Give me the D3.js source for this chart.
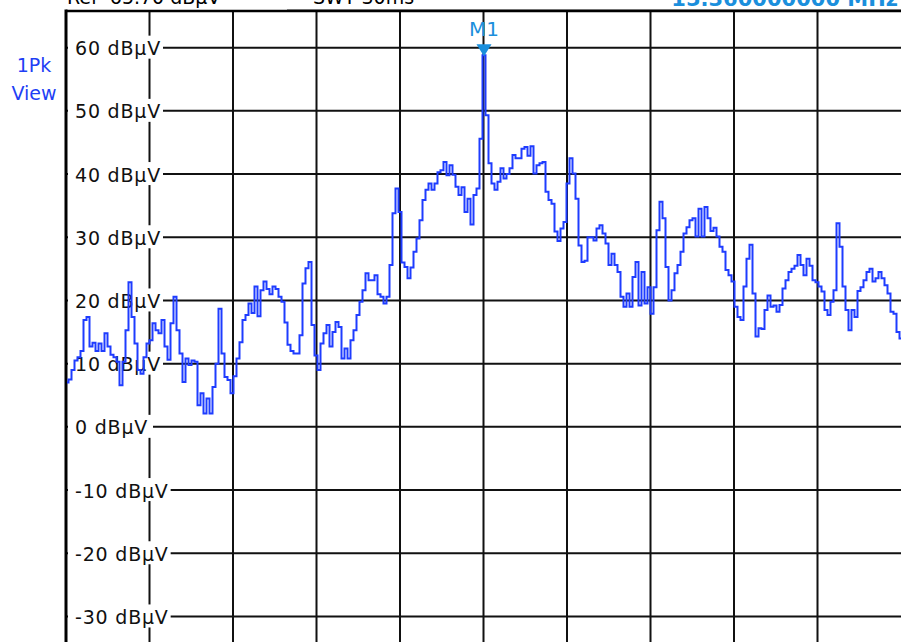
<!DOCTYPE html>
<html>
<head>
<meta charset="utf-8">
<script src="https://cdn.jsdelivr.net/npm/d3@7"></script>
<style>
  body { margin: 0; background: #fff; }
  svg { display: block; font-family: "DejaVu Sans", Verdana, sans-serif; }
</style>
</head>
<body>
<div id="spectrum"></div>
<script>
// trace levels in dBµV, one per sweep point
const levels = [
  7, 7.5, 9, 10.5, 11, 12, 16.9, 17.4, 12.7, 13.3,
  12, 13.2, 12, 14.8, 12.7, 11.4, 11, 10.3, 6.6, 10.3,
  15.3, 22.9, 17.4, 13.2, 9, 8.4, 11, 13.2, 13.7, 16.4,
  15.3, 14.8, 16.9, 12.7, 10.6, 16.4, 20.6, 15.3, 11.6, 7.1,
  10.8, 9.8, 10.5, 10.3, 3.4, 5.3, 2.1, 4.5, 2.1, 6.3,
  10, 18.7, 11.6, 7.9, 7.4, 5.3, 8, 10.8, 13.4, 16.9,
  17.7, 19.5, 18, 22.2, 17.5, 21.6, 23, 21.8, 21, 22.2,
  21.8, 20.6, 19.8, 16.5, 13, 12, 11.6, 11.6, 14.5, 22.7,
  25.1, 26.1, 16.1, 11.3, 9, 13.2, 14.8, 16.1, 12.7, 15,
  16.6, 15.8, 10.8, 12.4, 10.8, 13.7, 15.3, 17.7, 19.8, 21.6,
  24.3, 23.2, 23.2, 24, 21, 20.6, 19.5, 20.6, 25.6, 33.8,
  37.7, 34, 26, 25.3, 23.5, 25.2, 27.7, 29.8, 32.7, 35.9,
  37.5, 38.5, 37.5, 38.5, 40.3, 40.6, 41.9, 39.8, 41.4, 39.9,
  38, 36.7, 37.9, 34, 36.1, 32, 36.7, 37.7, 45.6, 58.8,
  49.3, 41.7, 38.5, 37.5, 38.8, 40.9, 39.3, 40, 40.9, 43,
  42.5, 42.5, 44, 44.3, 42.9, 44.4, 40.1, 41.4, 41.7, 41.9,
  37.2, 35.9, 35.3, 30.9, 29.4, 31.4, 32.4, 38.5, 42.5, 40.1,
  36.1, 28.7, 26.1, 26.3, 30, 30, 29.5, 31.4, 31.9, 30.6,
  29, 25.6, 27.4, 25.6, 24.5, 20.6, 19, 21.1, 19, 23.7,
  26.1, 19.2, 24.5, 19.5, 22.1, 17.9, 22.1, 31.1, 35.6, 33,
  25.3, 20, 21.6, 24.3, 25.6, 27.7, 30.6, 31.6, 32.7, 33,
  30.1, 34.5, 30.1, 34.8, 33, 31, 31.5, 30.1, 28.5, 27.7,
  24.8, 24, 23, 19, 17.4, 16.9, 22.2, 26.6, 28.8, 21.1,
  14.3, 15.6, 15.5, 18.5, 20.8, 19, 19.2, 18.2, 19.3, 21.9,
  23.2, 24.5, 25, 25.5, 27.2, 25.6, 24, 26.6, 25.5, 23.2,
  22.9, 22.2, 21.4, 18.5, 17.7, 19.8, 21.6, 32.2, 28.5, 22.2,
  18.5, 15.3, 18.5, 17.4, 21.5, 22.1, 23.2, 24.5, 25, 23,
  23.5, 24.5, 23.5, 22.4, 21.1, 18.2, 17.9, 15, 14
];

const yTickValues = [60, 50, 40, 30, 20, 10, 0, -10, -20, -30];
const yTickLabels = ["60 dBµV", "50 dBµV", "40 dBµV", "30 dBµV", "20 dBµV",
                     "10 dBµV", "0 dBµV", "-10 dBµV", "-20 dBµV", "-30 dBµV"];
const traceName = ["1Pk", "View"];
const headerLeft = ["Ref  65.70 dBµV", "SWT 30ms"];
const markerName = "M1";
const markerFreq = "15.360000000 MHz";
const levelRange = [-34.2, 65.8];

const W = 901, H = 642;
const plot = {left: 66, top: 11, right: 901, bottom: 643};

const svg = d3.select("#spectrum").append("svg")
  .attr("width", W)
  .attr("height", H);

const x = d3.scaleLinear()
  .domain([0, levels.length - 1])
  .range([plot.left + 1, plot.right]);

const y = d3.scaleLinear()
  .domain(levelRange)
  .range([plot.bottom, plot.top]);

// 10 horizontal divisions
const xDiv = d3.scaleLinear().domain([0, 10]).range([plot.left, plot.right]);

// header
svg.append("line")
  .attr("x1", 287).attr("x2", W)
  .attr("y1", 9.5).attr("y2", 9.5)
  .attr("stroke", "#9a9a9a").attr("stroke-width", 1);

svg.append("text").attr("x", 67).attr("y", 4)
  .attr("font-size", 19).attr("fill", "#000")
  .style("white-space", "pre")
  .text(headerLeft[0]);
svg.append("text").attr("x", 313).attr("y", 4)
  .attr("font-size", 19).attr("fill", "#000")
  .text(headerLeft[1]);
svg.append("text").attr("x", 898).attr("y", 6)
  .attr("font-size", 21).attr("font-weight", "bold")
  .attr("text-anchor", "end").attr("fill", "#1b8fdc")
  .text(markerFreq);

// trace name
svg.selectAll(".tname")
  .data(traceName)
  .enter().append("text")
  .attr("class", "tname")
  .attr("x", 34)
  .attr("y", (d, i) => 72 + i * 28)
  .attr("text-anchor", "middle")
  .attr("font-size", 19)
  .attr("fill", "#1f3ff5")
  .text(d => d);

const g = svg.append("g");

// grid
g.selectAll(".vgrid")
  .data(d3.range(1, 10))
  .enter().append("line")
  .attr("class", "vgrid")
  .attr("x1", d => xDiv(d)).attr("x2", d => xDiv(d))
  .attr("y1", plot.top).attr("y2", H)
  .attr("stroke", "#111").attr("stroke-width", 2);

g.selectAll(".hgrid")
  .data(yTickValues)
  .enter().append("line")
  .attr("class", "hgrid")
  .attr("x1", plot.left).attr("x2", plot.right)
  .attr("y1", d => y(d)).attr("y2", d => y(d))
  .attr("stroke", "#111").attr("stroke-width", 2);

// level labels sit on white boxes over the grid
const labels = g.selectAll(".ylab")
  .data(yTickValues)
  .enter().append("g")
  .attr("class", "ylab")
  .attr("transform", d => "translate(0," + y(d) + ")");

const labelText = labels.append("text")
  .attr("x", 75)
  .attr("y", 7.5)
  .attr("font-size", 19)
  .attr("letter-spacing", 0.8)
  .attr("fill", "#111")
  .text((d, i) => yTickLabels[i]);

labels.insert("rect", "text")
  .attr("x", plot.left + 2)
  .attr("y", -12)
  .attr("width", function (d, i) {
    const bb = labelText.nodes()[i].getBBox();
    return Math.max(bb.x + bb.width + 2, 153) - plot.left - 2;
  })
  .attr("height", 23)
  .attr("fill", "#fff");

// frame
g.append("line")
  .attr("x1", plot.left).attr("x2", plot.left)
  .attr("y1", plot.top - 1.5).attr("y2", H)
  .attr("stroke", "#000").attr("stroke-width", 3);
g.append("line")
  .attr("x1", plot.left).attr("x2", plot.right)
  .attr("y1", plot.top).attr("y2", plot.top)
  .attr("stroke", "#000").attr("stroke-width", 2.5);

// trace
const line = d3.line()
  .x((d, i) => x(i))
  .y(d => y(d))
  .curve(d3.curveStep);

g.append("path")
  .datum(levels)
  .attr("d", line)
  .attr("fill", "none")
  .attr("stroke", "#1e3cff")
  .attr("stroke-width", 2);

// marker at the peak
const peakIdx = d3.maxIndex(levels);
const mx = x(peakIdx), my = y(levels[peakIdx]);

g.append("path")
  .attr("d", "M" + (mx - 7.5) + "," + (my - 11) + "L" + (mx + 7.5) + "," + (my - 11) + "L" + mx + "," + (my + 1) + "Z")
  .attr("fill", "#1b8fdc");

g.append("text")
  .attr("x", mx)
  .attr("y", my - 19)
  .attr("text-anchor", "middle")
  .attr("font-size", 20)
  .attr("fill", "#1b8fdc")
  .text(markerName);
</script>
</body>
</html>
